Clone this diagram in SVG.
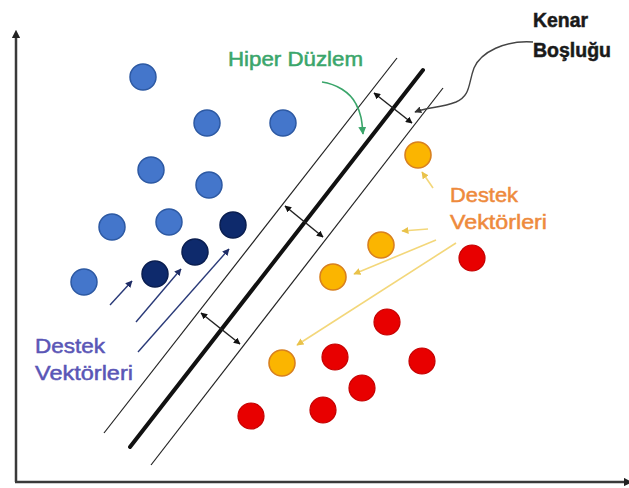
<svg xmlns="http://www.w3.org/2000/svg" width="629" height="488" viewBox="0 0 629 488">
  <style>
    .axis { stroke: #3a3a3a; stroke-width: 2.5; fill: none; }
    .margin { stroke: #222; stroke-width: 1.2; fill: none; }
    .hyper { stroke: #111; stroke-width: 4; fill: none; stroke-linecap: round; }
    .gap { stroke: #222; stroke-width: 1.5; fill: none; marker-start: url(#tip); marker-end: url(#tip); }
    .blueArrow { stroke: #2a3a78; stroke-width: 1.4; fill: none; marker-end: url(#tipNavy); }
    .yellowArrow { stroke: #f3d77a; stroke-width: 1.6; fill: none; marker-end: url(#tipYellow); }
    .lightBlue { fill: #4476cb; stroke: #2d59a3; stroke-width: 1.5; }
    .navy { fill: #0e2a6c; stroke: #0a1e50; stroke-width: 1.5; }
    .orange { fill: #fbb500; stroke: #d8801f; stroke-width: 1.6; }
    .red { fill: #e80000; stroke: #c40000; stroke-width: 1.2; }
    text { font-family: "Liberation Sans", Arial, sans-serif; stroke-width: 0.5; paint-order: stroke; }
    .lbl-big { font-size: 21px; }
    .lbl-mid { font-size: 19.5px; }
  </style>
  <defs>
    <marker id="tip" viewBox="0 0 10 10" refX="9" refY="5" markerWidth="4.5" markerHeight="4.5" orient="auto-start-reverse" markerUnits="strokeWidth">
      <path d="M0,0 L10,5 L0,10 z" fill="#111"/>
    </marker>
    <marker id="tipNavy" viewBox="0 0 10 10" refX="9" refY="5" markerWidth="5" markerHeight="5" orient="auto" markerUnits="strokeWidth">
      <path d="M0,0 L10,5 L0,10 z" fill="#1f2d66"/>
    </marker>
    <marker id="tipYellow" viewBox="0 0 10 10" refX="9" refY="5" markerWidth="4.5" markerHeight="4.5" orient="auto" markerUnits="strokeWidth">
      <path d="M0,0 L10,5 L0,10 z" fill="#e9c24a"/>
    </marker>
    <marker id="tipGreen" viewBox="0 0 10 10" refX="9" refY="5" markerWidth="5" markerHeight="5" orient="auto" markerUnits="strokeWidth">
      <path d="M0,0 L10,5 L0,10 z" fill="#3aa56a"/>
    </marker>
    <marker id="tipGray" viewBox="0 0 10 10" refX="9" refY="5" markerWidth="5" markerHeight="5" orient="auto" markerUnits="strokeWidth">
      <path d="M0,0 L10,5 L0,10 z" fill="#333"/>
    </marker>
    <marker id="axisTip" viewBox="0 0 10 10" refX="5" refY="5" markerWidth="3.4" markerHeight="3.4" orient="auto" markerUnits="strokeWidth">
      <path d="M0,0 L10,5 L0,10 z" fill="#222"/>
    </marker>
  </defs>

  <rect width="629" height="488" fill="#ffffff"/>

  <!-- axes -->
  <g id="axes">
    <path class="axis" d="M16,482 L16,34" marker-end="url(#axisTip)"/>
    <path class="axis" d="M15,482 L628,482" marker-end="url(#axisTip)"/>
  </g>

  <!-- separating line and its margins -->
  <g id="hyperplane">
    <line class="margin" x1="397" y1="58" x2="104" y2="433"/>
    <line class="hyper" x1="423" y1="70" x2="130" y2="447"/>
    <line class="margin" x1="443" y1="88" x2="151" y2="465"/>
  </g>

  <!-- connectors -->
  <g id="connectors">
    <!-- margin width arrows -->
    <line class="gap" x1="374" y1="93" x2="412" y2="123"/>
    <line class="gap" x1="285" y1="206" x2="323" y2="237"/>
    <line class="gap" x1="201" y1="313" x2="240" y2="344"/>
    <!-- pointers to the dark blue support vectors -->
    <line class="blueArrow" x1="110" y1="305" x2="132" y2="281"/>
    <line class="blueArrow" x1="136" y1="322" x2="181" y2="269"/>
    <line class="blueArrow" x1="138" y1="352" x2="229" y2="249"/>
    <!-- pointers to the orange support vectors -->
    <line class="yellowArrow" x1="433" y1="188" x2="422" y2="172"/>
    <line class="yellowArrow" x1="428" y1="229" x2="402" y2="231"/>
    <line class="yellowArrow" x1="436" y1="240" x2="354" y2="274"/>
    <line class="yellowArrow" x1="456" y1="243" x2="297" y2="345"/>
    <!-- label leaders -->
    <path d="M322,82 C336,84 350,92 356,104 C362,115 362,124 363,134" stroke="#3aa56a" stroke-width="1.6" fill="none" marker-end="url(#tipGreen)"/>
    <path d="M533,42 C505,40 481,52 474,68 C468,84 471,95 456,102 C441,108 428,107 415,112" stroke="#444" stroke-width="1.4" fill="none" marker-end="url(#tipGray)"/>
  </g>

  <!-- class A points -->
  <g id="blue-points">
    <circle class="lightBlue" cx="143" cy="77" r="13"/>
    <circle class="lightBlue" cx="207" cy="123" r="13"/>
    <circle class="lightBlue" cx="283" cy="123" r="13"/>
    <circle class="lightBlue" cx="151" cy="170" r="13"/>
    <circle class="lightBlue" cx="209" cy="185" r="13"/>
    <circle class="lightBlue" cx="112" cy="227" r="13"/>
    <circle class="lightBlue" cx="169" cy="222" r="13"/>
    <circle class="lightBlue" cx="84" cy="282" r="13"/>
    <circle class="navy" cx="233" cy="225" r="13"/>
    <circle class="navy" cx="195" cy="252" r="13"/>
    <circle class="navy" cx="155" cy="274" r="13"/>
  </g>

  <!-- class B points -->
  <g id="red-points">
    <circle class="orange" cx="418" cy="155" r="13"/>
    <circle class="orange" cx="381" cy="245" r="13"/>
    <circle class="orange" cx="333" cy="277" r="13"/>
    <circle class="orange" cx="282" cy="363" r="13"/>
    <circle class="red" cx="472" cy="258" r="13"/>
    <circle class="red" cx="387" cy="322" r="13"/>
    <circle class="red" cx="335" cy="357" r="13"/>
    <circle class="red" cx="422" cy="361" r="13"/>
    <circle class="red" cx="362" cy="388" r="13"/>
    <circle class="red" cx="323" cy="410" r="13"/>
    <circle class="red" cx="251" cy="416" r="13"/>
  </g>

  <!-- labels -->
  <g id="label-hyperplane">
    <text class="lbl-mid" x="228" y="66" fill="#3aa66b" stroke="#3aa66b" textLength="135" lengthAdjust="spacingAndGlyphs">Hiper Düzlem</text>
  </g>
  <g id="label-margin">
    <text class="lbl-mid" x="533" y="27" fill="#1a1a1a" stroke="#1a1a1a" font-weight="bold" textLength="55" lengthAdjust="spacingAndGlyphs">Kenar</text>
    <text class="lbl-mid" x="533" y="57" fill="#1a1a1a" stroke="#1a1a1a" font-weight="bold" textLength="78" lengthAdjust="spacingAndGlyphs">Boşluğu</text>
  </g>
  <g id="label-support-blue">
    <text class="lbl-big" x="35" y="353" fill="#5a56b6" stroke="#5a56b6" textLength="70" lengthAdjust="spacingAndGlyphs">Destek</text>
    <text class="lbl-big" x="35" y="380" fill="#5a56b6" stroke="#5a56b6" textLength="98" lengthAdjust="spacingAndGlyphs">Vektörleri</text>
  </g>
  <g id="label-support-orange">
    <text class="lbl-big" x="450" y="202" fill="#ee8a3c" stroke="#ee8a3c" textLength="68" lengthAdjust="spacingAndGlyphs">Destek</text>
    <text class="lbl-big" x="450" y="229" fill="#ee8a3c" stroke="#ee8a3c" textLength="97" lengthAdjust="spacingAndGlyphs">Vektörleri</text>
  </g>
</svg>
